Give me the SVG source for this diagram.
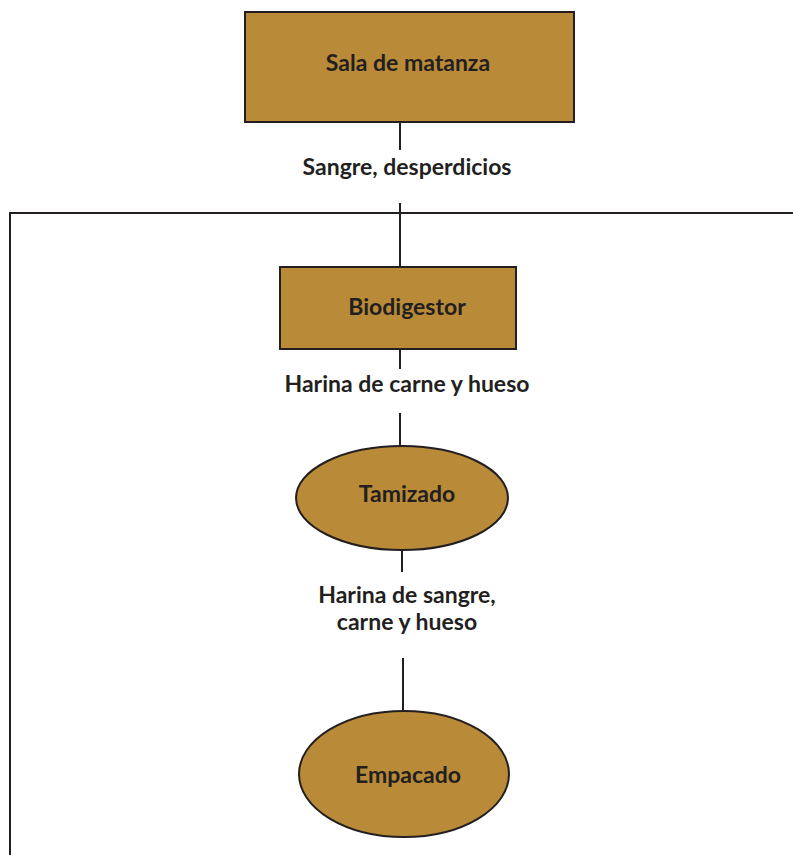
<svg xmlns="http://www.w3.org/2000/svg" width="793" height="855" viewBox="0 0 793 855">
<style>
.n{fill:#b98a37;stroke:#231f20;stroke-width:2}
.c{fill:none;stroke:#231f20;stroke-width:2}
text{font-family:Lato,"Liberation Sans",sans-serif;font-weight:bold;font-size:23px;fill:#231f20;text-anchor:middle}
</style>
<rect width="793" height="855" fill="#fff"/>
<g id="connectors">
<line class="c" x1="400" y1="122" x2="400" y2="150"/>
<line class="c" x1="400" y1="203" x2="400" y2="267"/>
<polyline class="c" points="10,855 10,213 793,213"/>
<line class="c" x1="400" y1="349" x2="400" y2="369"/>
<line class="c" x1="400" y1="413" x2="400" y2="448"/>
<line class="c" x1="402" y1="550" x2="402" y2="572"/>
<line class="c" x1="403" y1="658" x2="403" y2="711"/>
</g>
<g id="label-sangre"><text x="407" y="175">Sangre, desperdicios</text></g>
<g id="label-harina1"><text x="407" y="392">Harina de carne y hueso</text></g>
<g id="label-harina2"><text x="407" y="603">Harina de sangre,</text><text x="407" y="630">carne y hueso</text></g>
<g id="sala"><rect class="n" x="245" y="12" width="329" height="110"/><text x="408" y="71">Sala de matanza</text></g>
<g id="biodigestor"><rect class="n" x="280" y="267" width="236" height="82"/><text x="407" y="315">Biodigestor</text></g>
<g id="tamizado"><ellipse class="n" cx="402" cy="498" rx="106" ry="52"/><text x="407" y="502">Tamizado</text></g>
<g id="empacado"><ellipse class="n" cx="404" cy="774" rx="105" ry="63"/><text x="408" y="783">Empacado</text></g>
</svg>
